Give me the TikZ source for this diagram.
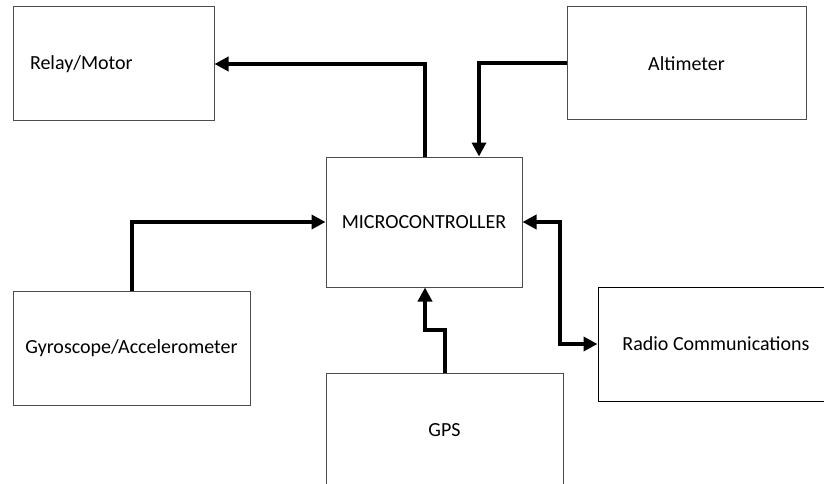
\documentclass[tikz,border=0pt]{standalone}
\usepackage{fontspec}
\setmainfont{Carlito}
\usepackage{tikz}
\usetikzlibrary{arrows.meta}
\tikzset{
  block/.style = {draw=black!70, line width=1pt, rectangle, inner sep=0pt,
    align=center, font=\fontsize{20}{24}\selectfont},
  wire/.style = {line width=4pt, -{Triangle[length=14pt,width=14pt]}},
  duplex/.style = {wire, {Triangle[length=14pt,width=14pt]}-{Triangle[length=14pt,width=14pt]}}
}
\begin{document}
\begin{tikzpicture}[x=1pt, y=-1pt]
  \useasboundingbox (0,0) rectangle (824,484);
  \clip (0,0) rectangle (824,484);
  % blocks
  \node [block, minimum width=201pt, minimum height=114pt, text width=167pt,
         align=left] (relay) at (113.5,64) {Relay/Motor};
  \node [block, minimum width=239pt, minimum height=113pt] (alti) at (686.5,63.5) {Altimeter};
  \node [block, minimum width=196pt, minimum height=130pt] (micro) at (424,222) {MICROCONTROLLER};
  \node [block, minimum width=237pt, minimum height=114pt] (gyro) at (131.5,348) {Gyroscope/Accelerometer};
  \node [block, minimum width=237pt, minimum height=114pt] (gps) at (444.5,430) {GPS};
  \node [block, minimum width=236pt, minimum height=114pt, draw=black] (radio) at (716,344) {Radio Communications};
  % connections
  \draw [wire] ([xshift=1pt]micro.north) |- (relay.east);
  \draw [wire] (alti.west) -| ([xshift=55pt]micro.north);
  \draw [wire] ([xshift=0.5pt]gyro.north) |- (micro.west);
  \draw [duplex] (micro.east) -- ++(37,0) |- (radio.west);
  \draw [wire] (gps.north) -- ++(0,-43) -| ([xshift=1pt]micro.south);
\end{tikzpicture}
\end{document}
